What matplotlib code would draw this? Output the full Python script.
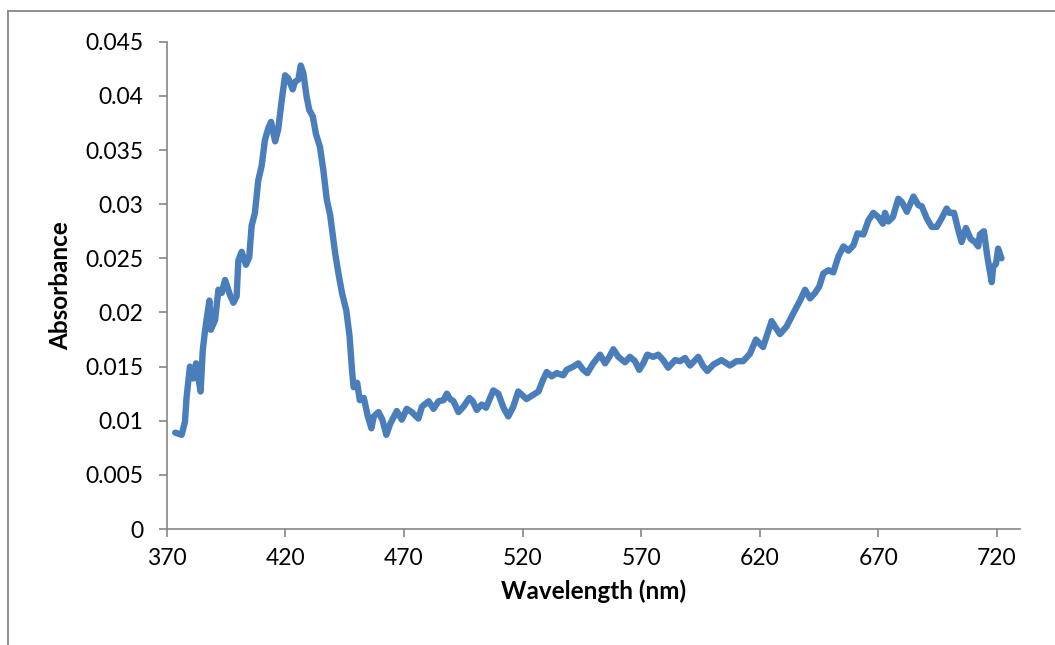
import matplotlib
matplotlib.use("Agg")
import matplotlib.pyplot as plt
from matplotlib.lines import Line2D

plt.rcParams['font.family'] = ['Lato', 'DejaVu Sans']

# spectrum
wavelength = [
    373.6, 376.3, 377.7, 378.4, 379.8, 381.2, 382.4, 384.3, 385.2, 386.2,
    388.0, 388.6, 390.4, 391.8, 393.2, 394.6, 396.7, 398.1, 399.5, 400.2,
    401.6, 403.4, 404.8, 405.8, 407.2, 408.6, 410.0, 411.4, 412.8, 414.0,
    415.7, 417.0, 418.5, 419.9, 421.3, 423.1, 424.1, 425.5, 426.5, 427.6,
    429.0, 430.1, 431.6, 432.9, 434.6, 436.0, 437.5, 438.9, 441.0, 442.4,
    443.9, 445.7, 447.1, 448.1, 448.8, 450.3, 451.4, 453.1, 454.8, 456.3,
    457.3, 459.3, 460.9, 462.6, 464.2, 467.0, 469.1, 471.2, 473.3, 476.1,
    477.6, 480.4, 482.5, 484.6, 486.7, 488.1, 489.5, 490.9, 493.0, 495.1,
    497.6, 499.0, 500.7, 502.8, 504.6, 507.7, 509.8, 512.0, 514.0, 516.1,
    518.2, 521.7, 524.6, 526.7, 528.5, 530.2, 532.3, 534.4, 537.2, 538.6,
    541.4, 543.5, 545.6, 547.3, 549.8, 552.7, 554.8, 556.6, 558.3, 560.4,
    563.2, 565.3, 567.4, 569.2, 570.9, 572.6, 575.1, 577.2, 579.3, 581.4,
    584.3, 586.4, 588.5, 590.6, 594.1, 596.0, 597.9, 600.5, 603.9, 607.4,
    610.2, 613.0, 615.9, 618.4, 621.4, 622.9, 625.0, 626.4, 628.5, 631.3,
    634.1, 637.0, 639.1, 641.2, 643.3, 645.1, 646.8, 648.9, 651.0, 653.2,
    655.3, 657.4, 659.5, 661.2, 663.7, 665.8, 667.9, 670.0, 671.9, 672.8,
    674.2, 676.1, 678.4, 679.9, 682.0, 684.8, 686.9, 688.3, 690.4, 692.5,
    694.6, 696.7, 698.8, 699.9, 701.9, 703.7, 705.1, 706.9, 708.9, 710.7,
    712.1, 712.8, 714.5, 715.9, 717.8, 718.4, 719.6, 720.5, 721.9,
]
absorbance = [
    0.0089, 0.0087, 0.0099, 0.0122, 0.0150, 0.0139, 0.0153, 0.0127, 0.0165, 0.0184,
    0.0211, 0.0184, 0.0193, 0.0221, 0.0218, 0.0230, 0.0216, 0.0209, 0.0215, 0.0248,
    0.0256, 0.0244, 0.0251, 0.0280, 0.0292, 0.0322, 0.0335, 0.0359, 0.0370, 0.0376,
    0.0358, 0.0369, 0.0396, 0.0419, 0.0416, 0.0406, 0.0413, 0.0415, 0.0428, 0.0421,
    0.0399, 0.0387, 0.0381, 0.0365, 0.0353, 0.0332, 0.0304, 0.0290, 0.0255, 0.0236,
    0.0218, 0.0202, 0.0178, 0.0147, 0.0131, 0.0135, 0.0119, 0.0121, 0.0104, 0.0093,
    0.0104, 0.0108, 0.0101, 0.0087, 0.0097, 0.0109, 0.0101, 0.0111, 0.0108, 0.0102,
    0.0113, 0.0118, 0.0111, 0.0118, 0.0119, 0.0125, 0.0120, 0.0118, 0.0108, 0.0113,
    0.0121, 0.0118, 0.0110, 0.0115, 0.0112, 0.0128, 0.0125, 0.0112, 0.0104, 0.0113,
    0.0127, 0.0120, 0.0124, 0.0127, 0.0137, 0.0145, 0.0141, 0.0144, 0.0142, 0.0147,
    0.0150, 0.0153, 0.0147, 0.0144, 0.0153, 0.0161, 0.0153, 0.0159, 0.0166, 0.0159,
    0.0154, 0.0159, 0.0155, 0.0147, 0.0153, 0.0161, 0.0159, 0.0161, 0.0156, 0.0149,
    0.0156, 0.0155, 0.0158, 0.0151, 0.0159, 0.0151, 0.0146, 0.0152, 0.0156, 0.0151,
    0.0155, 0.0155, 0.0162, 0.0175, 0.0168, 0.0178, 0.0192, 0.0187, 0.0180, 0.0187,
    0.0199, 0.0211, 0.0221, 0.0213, 0.0218, 0.0224, 0.0236, 0.0239, 0.0237, 0.0252,
    0.0261, 0.0257, 0.0262, 0.0273, 0.0272, 0.0285, 0.0292, 0.0288, 0.0282, 0.0292,
    0.0284, 0.0288, 0.0305, 0.0302, 0.0293, 0.0307, 0.0299, 0.0298, 0.0287, 0.0279,
    0.0279, 0.0287, 0.0296, 0.0292, 0.0292, 0.0276, 0.0265, 0.0278, 0.0268, 0.0265,
    0.0261, 0.0272, 0.0275, 0.0252, 0.0228, 0.0242, 0.0245, 0.0259, 0.0250,
]
x_ticks = [370, 420, 470, 520, 570, 620, 670, 720]
y_ticks = [0, 0.005, 0.01, 0.015, 0.02, 0.025, 0.03, 0.035, 0.04, 0.045]
y_tick_labels = ["0", "0.005", "0.01", "0.015", "0.02", "0.025", "0.03",
                 "0.035", "0.04", "0.045"]

axis_grey = "#868686"

fig = plt.figure(figsize=(10.55, 6.45), dpi=100)
ax = fig.add_axes([0.158, 0.1798, 0.8088, 0.7555])

ax.plot(wavelength, absorbance, color="#4A7EBB", linewidth=4.6,
        solid_joinstyle="round", solid_capstyle="round")

ax.set_xlim(370, 729.7)
ax.set_ylim(0, 0.045)
ax.set_xticks(x_ticks)
ax.set_yticks(y_ticks)
ax.set_yticklabels(y_tick_labels)

for side in ["top", "right"]:
    ax.spines[side].set_visible(False)
for side in ["left", "bottom"]:
    ax.spines[side].set_color(axis_grey)
    ax.spines[side].set_linewidth(1.2)

ax.tick_params(axis="both", direction="out", length=6, width=1.2,
               color=axis_grey, labelsize=16.5)
ax.tick_params(axis="y", pad=11)
ax.tick_params(axis="x", pad=8)

ax.set_xlabel("Wavelength (nm)", fontsize=17.5, fontweight="bold", labelpad=7)
ax.set_ylabel("Absorbance", fontsize=17.5, fontweight="bold", labelpad=9)

# chart area border (only left and top edges are visible in the crop)
fig.add_artist(Line2D([7.5 / 1055, 7.5 / 1055], [0, 1 - 10.5 / 645],
                      transform=fig.transFigure, color=axis_grey, linewidth=1.3))
fig.add_artist(Line2D([7.5 / 1055, 1], [1 - 10.5 / 645, 1 - 10.5 / 645],
                      transform=fig.transFigure, color=axis_grey, linewidth=1.3))

fig.savefig("out.png", dpi=100)
